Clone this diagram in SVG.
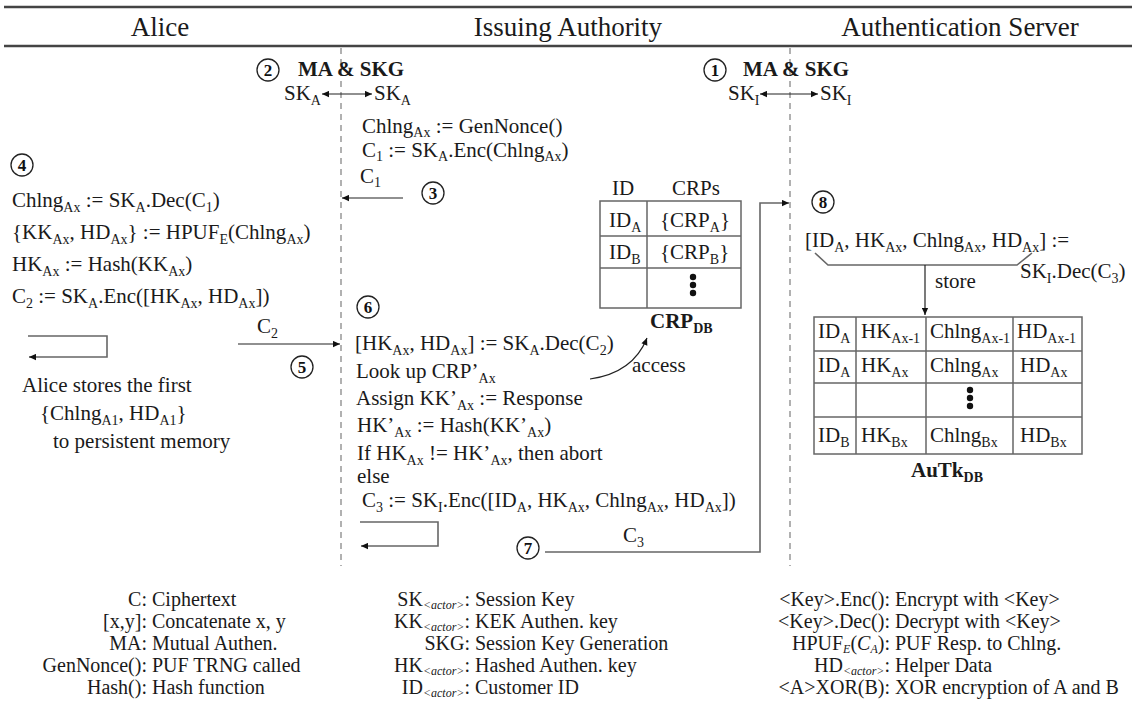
<svg xmlns="http://www.w3.org/2000/svg" width="1132" height="716" viewBox="0 0 1132 716">
<defs>
<style>
.t{font-family:"Liberation Serif","Times New Roman",serif;font-size:21px;fill:#1a1a1a}
.h{font-size:27px}
.b{font-weight:bold}
.s{font-size:14px}
.lg{font-size:20px}
.ls{font-size:12px}
.it{font-style:italic}
.num{font-family:"Liberation Serif","Times New Roman",serif;font-size:17px;font-weight:bold;fill:#111;text-anchor:middle}
.circ{fill:#fff;stroke:#222;stroke-width:1.3}
.ln{stroke:#222;stroke-width:1.2;fill:none}
.gl{stroke:#666;stroke-width:1.6;fill:none}
.life{stroke:#888;stroke-width:1.3;stroke-dasharray:6 5}
.tb{stroke:#666;stroke-width:1.5;fill:none}
.rule{stroke:#444;stroke-width:2.5}
</style>
<marker id="ah" viewBox="0 0 10 10" refX="10" refY="5" markerWidth="8" markerHeight="7" markerUnits="userSpaceOnUse" orient="auto-start-reverse"><path d="M0,0.5 L10,5 L0,9.5 z" fill="#111"/></marker>
</defs>

<g id="header">
<line class="rule" x1="4" y1="7" x2="1132" y2="7"/>
<line class="rule" x1="4" y1="46" x2="1132" y2="46"/>
<text class="t h" x="160" y="36" text-anchor="middle">Alice</text>
<text class="t h" x="568" y="36" text-anchor="middle">Issuing Authority</text>
<text class="t h" x="960" y="36" text-anchor="middle">Authentication Server</text>
</g>

<g id="lifelines">
<line class="life" x1="341" y1="48" x2="341" y2="566"/>
<line class="life" x1="790" y1="48" x2="790" y2="566"/>
</g>

<g id="connectors">
<line class="ln" x1="322" y1="94" x2="372" y2="94" marker-start="url(#ah)" marker-end="url(#ah)"/>
<line class="ln" x1="760" y1="94" x2="818" y2="94" marker-start="url(#ah)" marker-end="url(#ah)"/>
<line class="ln" x1="403" y1="198" x2="342" y2="198" marker-end="url(#ah)"/>
<line class="ln" x1="238" y1="344" x2="340" y2="344" marker-end="url(#ah)"/>
<path class="gl" d="M28,336 H107 V357 H29" marker-end="url(#ah)"/>
<path class="ln" d="M590,379 Q633,373 647,338" marker-end="url(#ah)"/>
<path class="gl" d="M360,522 H438 V546 H361" marker-end="url(#ah)"/>
<path class="gl" d="M545,552 H760 V203 H789" marker-end="url(#ah)"/>
<path class="gl" d="M815,253 L828,265 H1017 L1032,253"/>
<line class="ln" x1="925" y1="265" x2="925" y2="315" marker-end="url(#ah)"/>
</g>

<g id="step1">
<circle class="circ" cx="715" cy="70" r="11"/>
<text class="num" x="715" y="76">1</text>
<text class="t b" x="743" y="76">MA &amp; SKG</text>
<text class="t" x="728" y="100">SK<tspan class="s" dy="5">I</tspan></text>
<text class="t" x="820" y="100">SK<tspan class="s" dy="5">I</tspan></text>
</g>

<g id="step2">
<circle class="circ" cx="268" cy="70" r="11"/>
<text class="num" x="268" y="76">2</text>
<text class="t b" x="298" y="76">MA &amp; SKG</text>
<text class="t" x="284" y="100">SK<tspan class="s" dy="5">A</tspan></text>
<text class="t" x="374" y="100">SK<tspan class="s" dy="5">A</tspan></text>
</g>

<g id="step3">
<text class="t" x="362" y="133">Chlng<tspan class="s" dy="4">Ax</tspan><tspan dy="-4"> := GenNonce()</tspan></text>
<text class="t" x="362" y="157">C<tspan class="s" dy="4">1</tspan><tspan dy="-4"> := SK</tspan><tspan class="s" dy="4">A</tspan><tspan dy="-4">.Enc(Chlng</tspan><tspan class="s" dy="4">Ax</tspan><tspan dy="-4">)</tspan></text>
<text class="t" x="360" y="183">C<tspan class="s" dy="4">1</tspan></text>
<circle class="circ" cx="433" cy="193" r="11"/>
<text class="num" x="433" y="199">3</text>
</g>

<g id="step4">
<circle class="circ" cx="22" cy="165" r="11"/>
<text class="num" x="22" y="171">4</text>
<text class="t" x="12" y="207">Chlng<tspan class="s" dy="5">Ax</tspan><tspan dy="-5"> := SK</tspan><tspan class="s" dy="5">A</tspan><tspan dy="-5">.Dec(C</tspan><tspan class="s" dy="5">1</tspan><tspan dy="-5">)</tspan></text>
<text class="t" x="12" y="239">{KK<tspan class="s" dy="5">Ax</tspan><tspan dy="-5">, HD</tspan><tspan class="s" dy="5">Ax</tspan><tspan dy="-5">} := HPUF</tspan><tspan class="s" dy="5">E</tspan><tspan dy="-5">(Chlng</tspan><tspan class="s" dy="5">Ax</tspan><tspan dy="-5">)</tspan></text>
<text class="t" x="12" y="271">HK<tspan class="s" dy="5">Ax</tspan><tspan dy="-5"> := Hash(KK</tspan><tspan class="s" dy="5">Ax</tspan><tspan dy="-5">)</tspan></text>
<text class="t" x="12" y="303">C<tspan class="s" dy="5">2</tspan><tspan dy="-5"> := SK</tspan><tspan class="s" dy="5">A</tspan><tspan dy="-5">.Enc([HK</tspan><tspan class="s" dy="5">Ax</tspan><tspan dy="-5">, HD</tspan><tspan class="s" dy="5">Ax</tspan><tspan dy="-5">])</tspan></text>
<text class="t" x="22" y="392">Alice stores the first</text>
<text class="t" x="40" y="420">{Chlng<tspan class="s" dy="5">A1</tspan><tspan dy="-5">, HD</tspan><tspan class="s" dy="5">A1</tspan><tspan dy="-5">}</tspan></text>
<text class="t" x="53" y="448">to persistent memory</text>
</g>

<g id="step5">
<text class="t" x="257" y="333">C<tspan class="s" dy="5">2</tspan></text>
<circle class="circ" cx="302" cy="367" r="11"/>
<text class="num" x="302" y="373">5</text>
</g>

<g id="step6">
<circle class="circ" cx="368" cy="307" r="11"/>
<text class="num" x="368" y="313">6</text>
<text class="t" x="355" y="350">[HK<tspan class="s" dy="5">Ax</tspan><tspan dy="-5">, HD</tspan><tspan class="s" dy="5">Ax</tspan><tspan dy="-5">] := SK</tspan><tspan class="s" dy="5">A</tspan><tspan dy="-5">.Dec(C</tspan><tspan class="s" dy="5">2</tspan><tspan dy="-5">)</tspan></text>
<text class="t" x="356" y="378">Look up CRP’<tspan class="s" dy="5">Ax</tspan></text>
<text class="t" x="356" y="405">Assign KK’<tspan class="s" dy="5">Ax</tspan><tspan dy="-5"> := Response</tspan></text>
<text class="t" x="357" y="432">HK’<tspan class="s" dy="5">Ax</tspan><tspan dy="-5"> := Hash(KK’</tspan><tspan class="s" dy="5">Ax</tspan><tspan dy="-5">)</tspan></text>
<text class="t" x="357" y="460">If HK<tspan class="s" dy="5">Ax</tspan><tspan dy="-5"> != HK’</tspan><tspan class="s" dy="5">Ax</tspan><tspan dy="-5">, then abort</tspan></text>
<text class="t" x="357" y="483">else</text>
<text class="t" x="362" y="507">C<tspan class="s" dy="5">3</tspan><tspan dy="-5"> := SK</tspan><tspan class="s" dy="5">I</tspan><tspan dy="-5">.Enc([ID</tspan><tspan class="s" dy="5">A</tspan><tspan dy="-5">, HK</tspan><tspan class="s" dy="5">Ax</tspan><tspan dy="-5">, Chlng</tspan><tspan class="s" dy="5">Ax</tspan><tspan dy="-5">, HD</tspan><tspan class="s" dy="5">Ax</tspan><tspan dy="-5">])</tspan></text>
<text class="t" x="632" y="372">access</text>
</g>

<g id="crp-db">
<text class="t" x="612" y="195">ID</text>
<text class="t" x="672" y="195">CRPs</text>
<rect class="tb" x="600" y="201" width="141" height="107"/>
<line class="tb" x1="647" y1="201" x2="647" y2="308"/>
<line class="tb" x1="600" y1="236" x2="741" y2="236"/>
<line class="tb" x1="600" y1="268" x2="741" y2="268"/>
<text class="t" x="609" y="227">ID<tspan class="s" dy="5">A</tspan></text>
<text class="t" x="660" y="227">{CRP<tspan class="s" dy="5">A</tspan><tspan dy="-5">}</tspan></text>
<text class="t" x="609" y="259">ID<tspan class="s" dy="5">B</tspan></text>
<text class="t" x="660" y="259">{CRP<tspan class="s" dy="5">B</tspan><tspan dy="-5">}</tspan></text>
<circle cx="693" cy="277" r="3.2" fill="#111"/>
<circle cx="693" cy="285" r="3.2" fill="#111"/>
<circle cx="693" cy="293" r="3.2" fill="#111"/>
<text class="t b" x="650" y="328">CRP<tspan class="s" dy="5">DB</tspan></text>
</g>

<g id="step7">
<circle class="circ" cx="528" cy="548" r="11"/>
<text class="num" x="528" y="554">7</text>
<text class="t" x="623" y="542">C<tspan class="s" dy="5">3</tspan></text>
</g>

<g id="step8">
<circle class="circ" cx="823" cy="202" r="11"/>
<text class="num" x="823" y="208">8</text>
<text class="t" x="805" y="247">[ID<tspan class="s" dy="5">A</tspan><tspan dy="-5">, HK</tspan><tspan class="s" dy="5">Ax</tspan><tspan dy="-5">, Chlng</tspan><tspan class="s" dy="5">Ax</tspan><tspan dy="-5">, HD</tspan><tspan class="s" dy="5">Ax</tspan><tspan dy="-5">] :=</tspan></text>
<text class="t" x="1020" y="278">SK<tspan class="s" dy="5">I</tspan><tspan dy="-5">.Dec(C</tspan><tspan class="s" dy="5">3</tspan><tspan dy="-5">)</tspan></text>
<text class="t" x="935" y="288">store</text>
</g>

<g id="autk-db">
<rect class="tb" x="814" y="317" width="268" height="137"/>
<line class="tb" x1="814" y1="351" x2="1082" y2="351"/>
<line class="tb" x1="814" y1="383" x2="1082" y2="383"/>
<line class="tb" x1="814" y1="417" x2="1082" y2="417"/>
<line class="tb" x1="856" y1="317" x2="856" y2="454"/>
<line class="tb" x1="926" y1="317" x2="926" y2="454"/>
<line class="tb" x1="1013" y1="317" x2="1013" y2="454"/>
<text class="t" x="818" y="338">ID<tspan class="s" dy="5">A</tspan></text>
<text class="t" x="861" y="338">HK<tspan class="s" dy="5">Ax-1</tspan></text>
<text class="t" x="930" y="338">Chlng<tspan class="s" dy="5">Ax-1</tspan></text>
<text class="t" x="1017" y="338">HD<tspan class="s" dy="5">Ax-1</tspan></text>
<text class="t" x="818" y="372">ID<tspan class="s" dy="5">A</tspan></text>
<text class="t" x="861" y="372">HK<tspan class="s" dy="5">Ax</tspan></text>
<text class="t" x="930" y="372">Chlng<tspan class="s" dy="5">Ax</tspan></text>
<text class="t" x="1020" y="372">HD<tspan class="s" dy="5">Ax</tspan></text>
<circle cx="970" cy="390" r="3.2" fill="#111"/>
<circle cx="970" cy="398" r="3.2" fill="#111"/>
<circle cx="970" cy="406" r="3.2" fill="#111"/>
<text class="t" x="818" y="442">ID<tspan class="s" dy="5">B</tspan></text>
<text class="t" x="861" y="442">HK<tspan class="s" dy="5">Bx</tspan></text>
<text class="t" x="930" y="442">Chlng<tspan class="s" dy="5">Bx</tspan></text>
<text class="t" x="1020" y="442">HD<tspan class="s" dy="5">Bx</tspan></text>
<text class="t b" x="947" y="477" text-anchor="middle">AuTk<tspan class="s" dy="5">DB</tspan></text>
</g>

<g id="legend">
<text class="t lg" x="147" y="606" text-anchor="end">C:</text>
<text class="t lg" x="152" y="606">Ciphertext</text>
<text class="t lg" x="147" y="628" text-anchor="end">[x,y]:</text>
<text class="t lg" x="152" y="628">Concatenate x, y</text>
<text class="t lg" x="147" y="650" text-anchor="end">MA:</text>
<text class="t lg" x="152" y="650">Mutual Authen.</text>
<text class="t lg" x="147" y="672" text-anchor="end">GenNonce():</text>
<text class="t lg" x="152" y="672">PUF TRNG called</text>
<text class="t lg" x="147" y="694" text-anchor="end">Hash():</text>
<text class="t lg" x="152" y="694">Hash function</text>

<text class="t lg" x="470" y="606" text-anchor="end">SK<tspan class="ls it" dy="3">&lt;actor&gt;</tspan><tspan dy="-3">:</tspan></text>
<text class="t lg" x="475" y="606">Session Key</text>
<text class="t lg" x="470" y="628" text-anchor="end">KK<tspan class="ls it" dy="3">&lt;actor&gt;</tspan><tspan dy="-3">:</tspan></text>
<text class="t lg" x="475" y="628">KEK Authen. key</text>
<text class="t lg" x="470" y="650" text-anchor="end">SKG:</text>
<text class="t lg" x="475" y="650">Session Key Generation</text>
<text class="t lg" x="470" y="672" text-anchor="end">HK<tspan class="ls it" dy="3">&lt;actor&gt;</tspan><tspan dy="-3">:</tspan></text>
<text class="t lg" x="475" y="672">Hashed Authen. key</text>
<text class="t lg" x="470" y="694" text-anchor="end">ID<tspan class="ls it" dy="3">&lt;actor&gt;</tspan><tspan dy="-3">:</tspan></text>
<text class="t lg" x="475" y="694">Customer ID</text>

<text class="t lg" x="890" y="606" text-anchor="end">&lt;Key&gt;.Enc():</text>
<text class="t lg" x="895" y="606">Encrypt with &lt;Key&gt;</text>
<text class="t lg" x="890" y="628" text-anchor="end">&lt;Key&gt;.Dec():</text>
<text class="t lg" x="895" y="628">Decrypt with &lt;Key&gt;</text>
<text class="t lg" x="890" y="650" text-anchor="end">HPUF<tspan class="ls it" dy="3">E</tspan><tspan dy="-3">(</tspan><tspan class="it">C</tspan><tspan class="ls it" dy="3">A</tspan><tspan dy="-3">):</tspan></text>
<text class="t lg" x="895" y="650">PUF Resp. to Chlng.</text>
<text class="t lg" x="890" y="672" text-anchor="end">HD<tspan class="ls it" dy="3">&lt;actor&gt;</tspan><tspan dy="-3">:</tspan></text>
<text class="t lg" x="895" y="672">Helper Data</text>
<text class="t lg" x="890" y="694" text-anchor="end">&lt;A&gt;XOR(B):</text>
<text class="t lg" x="895" y="694">XOR encryption of A and B</text>
</g>
</svg>
